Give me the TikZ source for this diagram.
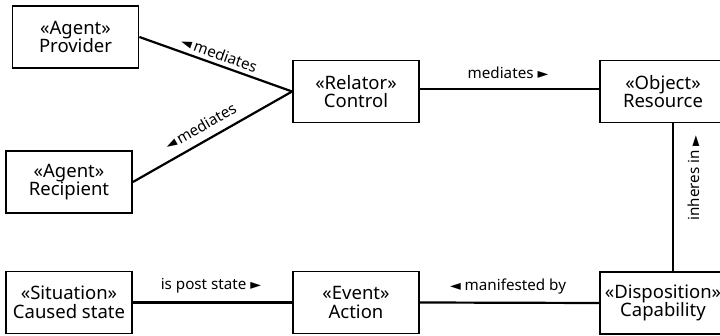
\documentclass[tikz,border=0pt]{standalone}
\usepackage{fontspec}
\setmainfont{Noto Sans}
\newfontfamily\symf{DejaVu Sans}
\newcommand{\rtri}{{\symf\fontsize{14}{14}\selectfont ►}}
\newcommand{\ltri}{{\symf\fontsize{14}{14}\selectfont ◄}}
\begin{document}
\begin{tikzpicture}[x=1pt,y=-1pt,
  box/.style={draw, line width=1.8pt, minimum width=126pt, minimum height=62pt, inner sep=0pt,
    align=center, font=\fontsize{18.5}{18.5}\selectfont},
  conn/.style={line width=2.2pt},
  lab/.style={font=\fontsize{15.2}{16}\selectfont, inner sep=1pt}]
\useasboundingbox (0,0) rectangle (720,336);
\node[box] (Provider) at (75.5,37) {«Agent»\\Provider};
\node[box] (Recipient) at (69,182) {«Agent»\\Recipient};
\node[box] (Control) at (356,91.5) {«Relator»\\Control};
\node[box] (Resource) at (663,91.5) {«Object»\\Resource};
\node[box] (Situation) at (69,302.5) {«Situation»\\Caused state};
\node[box] (Action) at (356,302.5) {«Event»\\Action};
\node[box] (Capability) at (663,303) {«Disposition»\\Capability};

\draw[conn] (Provider.east) -- node[lab, sloped, above=3pt, pos=0.5] {\ltri\,mediates} (Control.west);
\draw[conn] (Recipient.east) -- node[lab, sloped, above=7pt, pos=0.47] {\ltri\,mediates} (Control.west);
\draw[conn] ([yshift=2.5pt]Control.east) -- ([yshift=2.5pt]Resource.west);
\node[lab] (l1) at (508,73) {mediates \rtri};
\draw[conn] ([xshift=10pt]Resource.south) -- ([xshift=10pt]Capability.north);
\node[lab, rotate=90] (l2) at (694,178) {inheres in \rtri};
\draw[conn] (Situation.east) -- (Action.west);
\node[lab] (l3) at (211,286) {is post state \rtri};
\draw[conn] (Action.east) -- (Capability.west);
\node[lab] (l4) at (508,287) {\ltri\ manifested by};
\end{tikzpicture}
\end{document}
